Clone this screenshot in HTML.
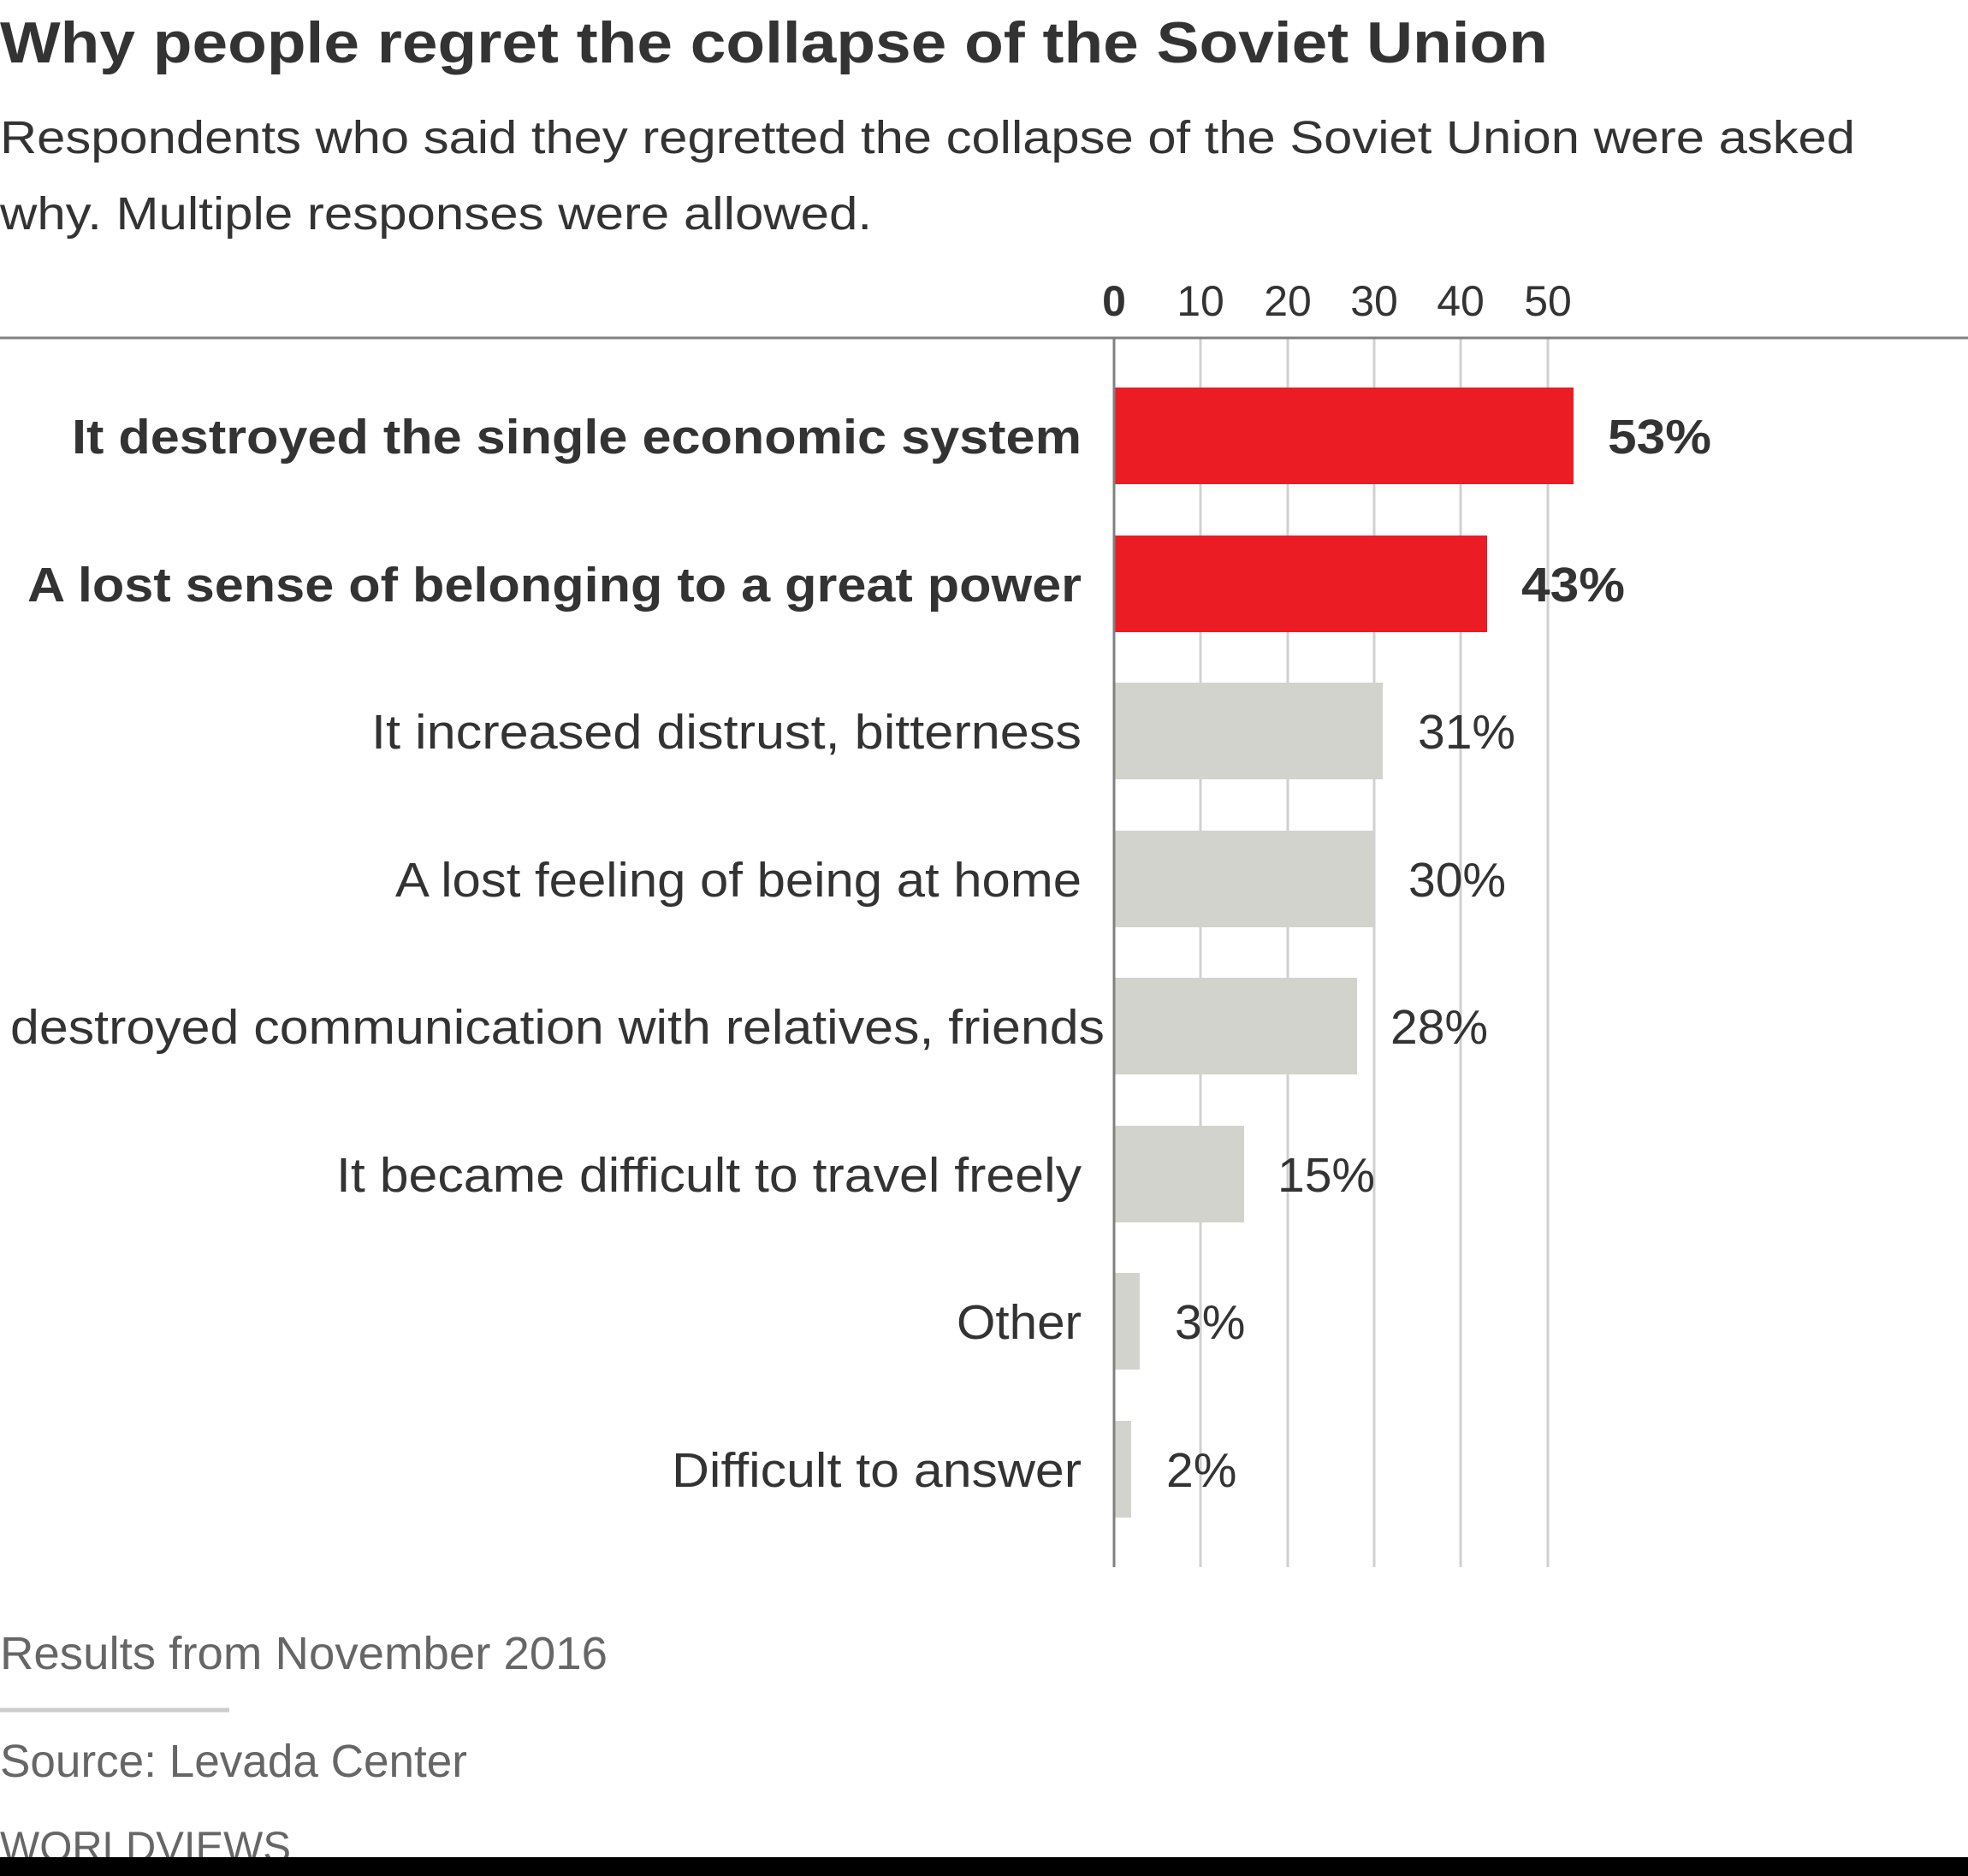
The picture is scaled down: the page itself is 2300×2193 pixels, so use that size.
<!DOCTYPE html>
<html><head><meta charset="utf-8"><style>html,body{margin:0;padding:0;background:#fff}svg{display:block}</style></head>
<body>
<svg width="2300" height="2193" viewBox="0 0 2300 2193" xmlns="http://www.w3.org/2000/svg" font-family="Liberation Sans, sans-serif">
<rect width="2300" height="2193" fill="#fff"/>
<text x="0" y="73" font-size="68" font-weight="bold" fill="#333" textLength="1809" lengthAdjust="spacingAndGlyphs">Why people regret the collapse of the Soviet Union</text>
<text x="0" y="179" font-size="54" fill="#333" textLength="2168" lengthAdjust="spacingAndGlyphs">Respondents who said they regretted the collapse of the Soviet Union were asked</text>
<text x="0" y="268" font-size="54" fill="#333" textLength="1019" lengthAdjust="spacingAndGlyphs">why. Multiple responses were allowed.</text>
<g font-size="50" fill="#333" text-anchor="middle">
<text x="1302" y="369" font-weight="bold">0</text>
<text x="1403" y="369">10</text><text x="1505" y="369">20</text><text x="1606" y="369">30</text><text x="1707" y="369">40</text><text x="1809" y="369">50</text>
</g>
<g stroke="#d0d0d0" stroke-width="3">
<line x1="1403" y1="395" x2="1403" y2="1832"/><line x1="1505" y1="395" x2="1505" y2="1832"/><line x1="1606" y1="395" x2="1606" y2="1832"/><line x1="1707" y1="395" x2="1707" y2="1832"/><line x1="1809" y1="395" x2="1809" y2="1832"/>
</g>
<line x1="0" y1="395" x2="2300" y2="395" stroke="#808080" stroke-width="3"/>
<g>
<rect x="1302" y="453" width="537" height="113" fill="#ec1c24"/>
<rect x="1302" y="626" width="436" height="113" fill="#ec1c24"/>
<rect x="1302" y="798" width="314" height="113" fill="#d3d3ce"/>
<rect x="1302" y="971" width="304" height="113" fill="#d3d3ce"/>
<rect x="1302" y="1143" width="284" height="113" fill="#d3d3ce"/>
<rect x="1302" y="1316" width="152" height="113" fill="#d3d3ce"/>
<rect x="1302" y="1488" width="30" height="113" fill="#d3d3ce"/>
<rect x="1302" y="1661" width="20" height="113" fill="#d3d3ce"/>
</g>
<line x1="1302" y1="395" x2="1302" y2="1832" stroke="#808080" stroke-width="3"/>
<g font-size="57" fill="#333">
<text x="84" y="530" font-weight="bold" textLength="1180" lengthAdjust="spacingAndGlyphs">It destroyed the single economic system</text>
<text x="32" y="703" font-weight="bold" textLength="1232" lengthAdjust="spacingAndGlyphs">A lost sense of belonging to a great power</text>
<text x="434" y="875" textLength="830" lengthAdjust="spacingAndGlyphs">It increased distrust, bitterness</text>
<text x="462" y="1048" textLength="802" lengthAdjust="spacingAndGlyphs">A lost feeling of being at home</text>
<text x="12" y="1220" textLength="1279" lengthAdjust="spacingAndGlyphs">destroyed communication with relatives, friends</text>
<text x="393" y="1393" textLength="871" lengthAdjust="spacingAndGlyphs">It became difficult to travel freely</text>
<text x="1118" y="1565" textLength="146" lengthAdjust="spacingAndGlyphs">Other</text>
<text x="785" y="1738" textLength="479" lengthAdjust="spacingAndGlyphs">Difficult to answer</text>
<text x="1879" y="530" font-weight="bold" textLength="121" lengthAdjust="spacingAndGlyphs">53%</text>
<text x="1778" y="703" font-weight="bold" textLength="121" lengthAdjust="spacingAndGlyphs">43%</text>
<text x="1657" y="875">31%</text>
<text x="1646" y="1048">30%</text>
<text x="1625" y="1220">28%</text>
<text x="1493" y="1393">15%</text>
<text x="1373" y="1565">3%</text>
<text x="1363" y="1738">2%</text>
</g>
<text x="0" y="1951" font-size="54" fill="#666" textLength="710" lengthAdjust="spacingAndGlyphs">Results from November 2016</text>
<line x1="0" y1="1999" x2="268" y2="1999" stroke="#ccc" stroke-width="5"/>
<text x="0" y="2077" font-size="54" fill="#666" textLength="546" lengthAdjust="spacingAndGlyphs">Source: Levada Center</text>
<text x="0" y="2176" font-size="50" fill="#666" textLength="340" lengthAdjust="spacingAndGlyphs">WORLDVIEWS</text>
<rect x="0" y="2171" width="2300" height="22" fill="#000"/>
</svg>
</body></html>
